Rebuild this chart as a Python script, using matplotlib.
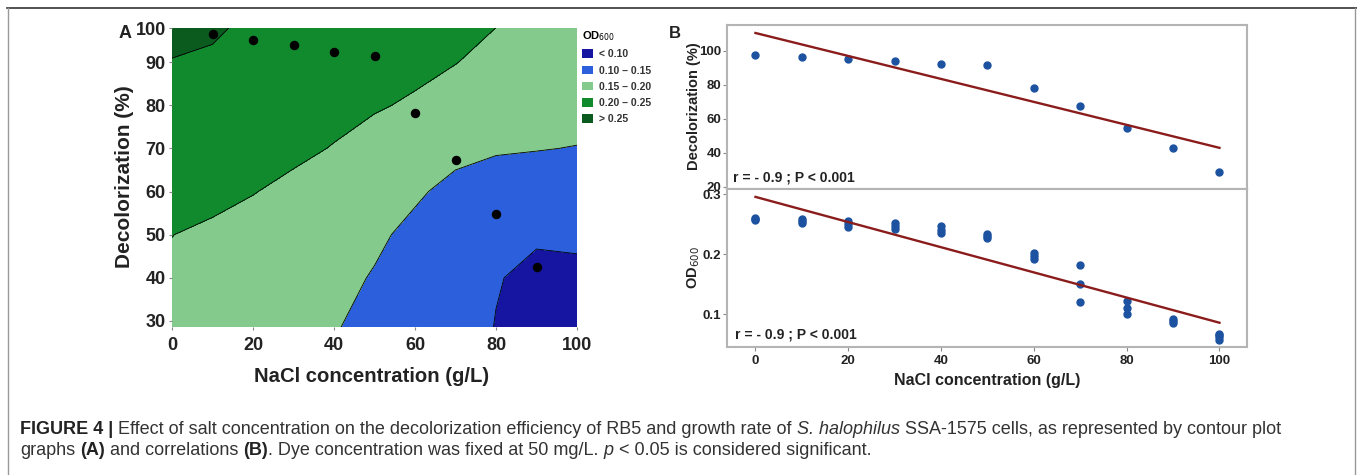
import matplotlib.pyplot as plt
import numpy as np
from matplotlib.patches import Patch
from matplotlib.lines import Line2D

plt.rcParams['font.family'] = ['Liberation Sans', 'DejaVu Sans']

W, H = 1357, 475

def fx(px):
    return px / W

def fy(py):
    return 1 - py / H

# ---------------- data ----------------
nacl = [0, 10, 20, 30, 40, 50, 60, 70, 80, 90, 100]
decol = [97.3, 96.5, 95.2, 94.0, 92.4, 91.5, 78.1, 67.4, 54.8, 42.6, 28.8]

# OD600 replicates per NaCl concentration
od_reps = [[0.261, 0.259, 0.257], [0.259, 0.256, 0.252], [0.256, 0.251, 0.246],
           [0.253, 0.247, 0.242], [0.247, 0.241, 0.236], [0.234, 0.230, 0.227],
           [0.203, 0.197, 0.192], [0.182, 0.151, 0.121], [0.122, 0.111, 0.101],
           [0.092, 0.089, 0.086], [0.068, 0.065, 0.062, 0.058]]

# regression lines (intercept, slope)
decol_fit = [110.4, -0.675]
od_fit = [0.296, -0.0021]

# contour surface of OD600 over NaCl (columns) and decolorization (rows)
grid_y = [28, 40, 50, 60, 70, 80, 90, 100]
od_grid = [
    [0.185, 0.177, 0.169, 0.161, 0.1515, 0.141, 0.127, 0.113, 0.099, 0.091, 0.093],
    [0.192, 0.184, 0.176, 0.167, 0.158, 0.148, 0.133, 0.118, 0.1015, 0.094, 0.095],
    [0.2005, 0.192, 0.184, 0.175, 0.166, 0.155, 0.143, 0.130, 0.118, 0.103, 0.104],
    [0.222, 0.212, 0.2015, 0.190, 0.177, 0.164, 0.154, 0.142, 0.135, 0.128, 0.122],
    [0.233, 0.226, 0.218, 0.209, 0.198, 0.188, 0.176, 0.158, 0.153, 0.1515, 0.1488],
    [0.240, 0.235, 0.229, 0.222, 0.213, 0.203, 0.196, 0.188, 0.180, 0.172, 0.165],
    [0.248, 0.243, 0.237, 0.230, 0.222, 0.215, 0.208, 0.2007, 0.192, 0.184, 0.176],
    [0.270, 0.260, 0.244, 0.238, 0.231, 0.224, 0.217, 0.210, 0.202, 0.195, 0.188],
]
od_levels = [0.0, 0.10, 0.15, 0.20, 0.25, 0.40]
od_labels = ['< 0.10', '0.10 \u2013 0.15', '0.15 \u2013 0.20', '0.20 \u2013 0.25', '> 0.25']
od_colors = ['#1515a2', '#2b5fdc', '#84ca8c', '#118a2d', '#0b5b1f']

fig = plt.figure(figsize=(13.57, 4.75), dpi=100)

# ---------------- panel A ----------------
axA = fig.add_axes([fx(172), fy(327), fx(577 - 172), (327 - 28) / H])
X, Y = np.meshgrid(nacl, grid_y)
Z = np.array(od_grid)
axA.contourf(X, Y, Z, levels=od_levels, colors=od_colors)
axA.contour(X, Y, Z, levels=od_levels[1:-1], colors='k', linewidths=0.6)
axA.plot(nacl[1:10], decol[1:10], 'o', color='black', markersize=5.8)
axA.set_xlim(0, 100)
axA.set_ylim(28.6, 97.9)
axA.set_xticks([0, 20, 40, 60, 80, 100])
axA.set_yticks([30, 40, 50, 60, 70, 80, 90, 97.9])
axA.set_yticklabels(['30', '40', '50', '60', '70', '80', '90', '100'])
for s in axA.spines.values():
    s.set_visible(False)
axA.tick_params(axis='both', length=2, width=0.8, color='#888888',
                labelsize=13, labelcolor='#222222')
axA.tick_params(axis='x', pad=5)
axA.tick_params(axis='y', pad=2.5)
for lab in axA.get_xticklabels() + axA.get_yticklabels():
    lab.set_fontweight('bold')

fig.text(fx(125), fy(177), 'Decolorization (%)', rotation=90, ha='center', va='center',
         fontsize=15, fontweight='bold', color='#222222')
fig.text(fx(372), fy(376), 'NaCl concentration (g/L)', ha='center', va='center',
         fontsize=14.6, fontweight='bold', color='#222222')
fig.text(fx(125), fy(33), 'A', ha='center', va='center', fontsize=13,
         fontweight='bold', color='#222222')

handles = [Patch(facecolor=c, edgecolor='none') for c in od_colors]
leg = fig.legend(handles, od_labels, loc='upper left', bbox_to_anchor=(fx(577), fy(24)),
                 frameon=False, title='OD$_{600}$', alignment='left', borderpad=0,
                 handlelength=1.0, handleheight=0.9, handletextpad=0.6, labelspacing=0.6,
                 prop={'weight': 'bold', 'size': 7.5},
                 title_fontproperties={'weight': 'bold', 'size': 8})
for t in leg.get_texts():
    t.set_color('#333333')

# ---------------- panel B ----------------
axB1 = fig.add_axes([fx(726.7), fy(188.5), (1247.3 - 726.7) / W, (188.5 - 25) / H])
axB2 = fig.add_axes([fx(726.7), fy(346.7), (1247.3 - 726.7) / W, (346.7 - 188.5) / H])

dot_color = '#1c52a0'
line_color = '#8b1c1c'
x_ends = np.array([nacl[0], nacl[-1]])

axB1.plot(nacl, decol, 'o', color=dot_color, markersize=5)
axB1.plot(x_ends, decol_fit[0] + decol_fit[1] * x_ends, color=line_color, lw=1.7)
axB1.set_ylim(19, 115.1)
axB1.set_yticks([20, 40, 60, 80, 100])

for xv, reps in zip(nacl, od_reps):
    axB2.plot([xv] * len(reps), reps, 'o', color=dot_color, markersize=5)
axB2.plot(x_ends, od_fit[0] + od_fit[1] * x_ends, color=line_color, lw=1.7)
axB2.set_ylim(0.046, 0.31)
axB2.set_yticks([0.1, 0.2, 0.3])
axB2.set_xticks([0, 20, 40, 60, 80, 100])

for ax in (axB1, axB2):
    ax.set_xlim(-6.2, 106)
    for s in ax.spines.values():
        s.set_color('#b4b4b4')
        s.set_linewidth(1.5)
    ax.tick_params(length=3, width=0.8, color='#888888', labelsize=9.5,
                   labelcolor='#222222', pad=1)
    for lab in ax.get_xticklabels() + ax.get_yticklabels():
        lab.set_fontweight('bold')
axB1.tick_params(axis='x', bottom=False, labelbottom=False)
axB2.tick_params(axis='x', pad=3)

axB1.text(0.012, 0.07, 'r = - 0.9 ; P < 0.001', transform=axB1.transAxes,
          fontsize=10, fontweight='bold', color='#222222', va='center')
axB2.text(0.016, 0.08, 'r = - 0.9 ; P < 0.001', transform=axB2.transAxes,
          fontsize=10, fontweight='bold', color='#222222', va='center')

fig.text(fx(694), fy(106), 'Decolorization (%)', rotation=90, ha='center', va='center',
         fontsize=10.5, fontweight='bold', color='#222222')
fig.text(fx(694), fy(268), 'OD$_{600}$', rotation=90, ha='center', va='center',
         fontsize=10.5, fontweight='bold', color='#222222')
fig.text(fx(987), fy(380), 'NaCl concentration (g/L)', ha='center', va='center',
         fontsize=11.5, fontweight='bold', color='#222222')
fig.text(fx(675), fy(33), 'B', ha='center', va='center', fontsize=12,
         fontweight='bold', color='#222222')

# ---------------- caption ----------------
cap = fig.add_axes([0, 0, 1, 1])
cap.axis('off')
cap.set_zorder(5)
cap_fs = 13.0
gap = 0.28 * cap_fs

line1 = [('FIGURE 4 |', 'bold', 0),
         ('Effect of salt concentration on the decolorization efficiency of RB5 and growth rate of',
          'normal', gap),
         ('S. halophilus', 'italic', gap),
         ('SSA-1575 cells, as represented by contour plot', 'normal', gap)]
line2 = [('graphs', 'normal', 0), ('(A)', 'bold', gap), ('and correlations', 'normal', gap),
         ('(B)', 'bold', gap), ('. Dye concentration was fixed at 50 mg/L.', 'normal', 0),
         ('p', 'italic', gap), ('< 0.05 is considered significant.', 'normal', gap)]


def draw_line(pieces, x0, y0):
    prev = None
    for txt, style, g in pieces:
        kw = dict(fontsize=cap_fs, color='#333333', va='bottom', ha='left')
        if style == 'bold':
            kw['fontweight'] = 'bold'
            kw['color'] = '#222222'
        elif style == 'italic':
            kw['fontstyle'] = 'italic'
        if prev is None:
            prev = cap.text(fx(x0), fy(y0), txt, **kw)
        else:
            prev = cap.annotate(txt, xy=(1, 0), xycoords=prev, xytext=(g, 0),
                                textcoords='offset points', **kw)


draw_line(line1, 20, 438)
draw_line(line2, 20, 459)

# figure frame lines
fig.add_artist(Line2D([fx(7), 1], [fy(7.5), fy(7.5)], color='#333333', lw=1.2))
fig.add_artist(Line2D([fx(7.5), fx(7.5)], [0, fy(7.5)], color='#999999', lw=1))
fig.add_artist(Line2D([fx(1355), fx(1355)], [0, fy(7.5)], color='#999999', lw=1))

fig.savefig('out.png', dpi=100)
